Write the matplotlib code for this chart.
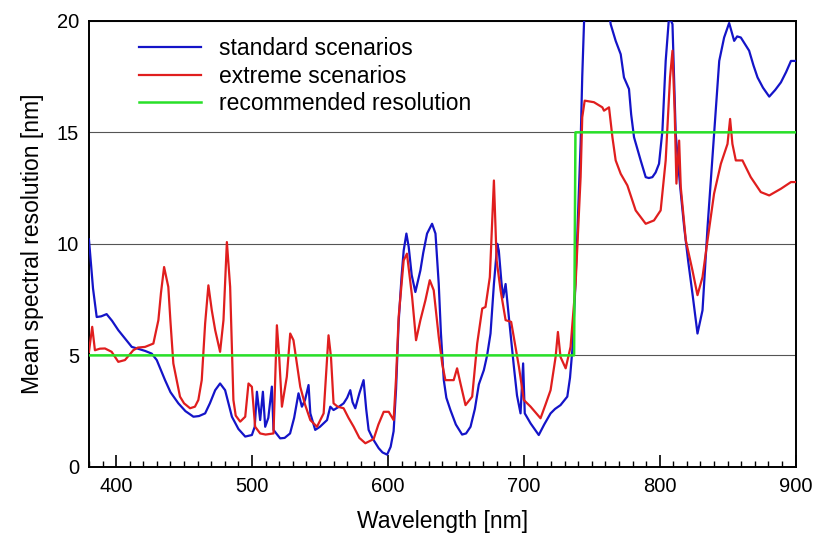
import matplotlib
matplotlib.use('Agg')
import matplotlib.pyplot as plt
from matplotlib.ticker import MultipleLocator

plt.rcParams['font.family'] = ['Liberation Sans', 'DejaVu Sans']

# standard scenarios (blue)
std_wl = [380, 383, 385.7, 389, 393, 397, 401.6, 406, 411.5, 416, 421.3, 426.2, 429.9, 436, 440,
          445.8, 451, 456.9, 461, 465.5, 469, 472.9, 476.5, 480.2, 485.2, 490, 495, 499.9, 502,
          503.6, 506, 508, 509.7, 512, 514.6, 515.8, 520.7, 524, 528, 531, 534.2, 536.7, 539,
          541.6, 542.9, 546.5, 550, 555.2, 557.6, 560, 564, 567.4, 570, 572.3, 574, 576, 579,
          582.1, 584, 585.8, 589, 593.2, 596, 599.4, 602, 604.2, 606, 607.9, 610, 611.6, 613.6,
          615.3, 617.5, 620.2, 623.9, 626, 628.8, 632.5, 635, 637.4, 639, 641.1, 643, 646, 650,
          654.6, 657.5, 660.8, 664, 666.9, 670.6, 673, 675.5, 678, 680.5, 681.6, 683.5, 684.8,
          686.6, 689, 692.7, 695, 697.6, 699.5, 700.7, 705, 711, 715, 719.7, 723, 727, 732, 734,
          735.7, 737.5, 739.4, 741.8, 743, 744.3, 746, 755, 762, 763.9, 767.6, 771.3, 773.7,
          777.4, 779, 781.1, 786, 789.7, 792, 794.6, 797, 799.5, 802, 804.4, 806.9, 809.4, 811.8,
          815, 818, 821, 824.1, 827.8, 831.5, 835.2, 840, 843.8, 847.4, 851.1, 854.8, 857, 859.7,
          865.8, 869, 872, 876, 880.6, 885, 889.2, 893, 896.6, 900]
std_res = [10.2, 8.0, 6.72, 6.75, 6.85, 6.55, 6.13, 5.8, 5.38, 5.3, 5.2, 5.08, 4.79, 3.89, 3.35,
           2.85, 2.5, 2.25, 2.28, 2.4, 2.85, 3.44, 3.74, 3.44, 2.25, 1.7, 1.36, 1.43, 1.8,
           3.37, 2.1, 3.37, 1.8, 2.2, 3.6, 1.66, 1.28, 1.3, 1.5, 2.2, 3.3, 2.7, 3.0,
           3.67, 2.4, 1.66, 1.8, 2.1, 2.7, 2.55, 2.7, 2.85, 3.1, 3.44, 2.9, 2.63, 3.3,
           3.89, 2.6, 1.66, 1.25, 0.84, 0.65, 0.55, 0.9, 1.6, 3.5, 6.5, 8.5, 9.7, 10.46,
           9.86, 8.6, 7.84, 8.81, 9.6, 10.46, 10.9, 10.46, 8.2, 6.0, 3.9, 3.1, 2.55, 1.9,
           1.45, 1.5, 1.8, 2.6, 3.7, 4.34, 5.0, 5.98, 8.2, 10.0, 9.7, 8.3, 7.6,
           8.2, 6.72, 4.49, 3.2, 2.4, 4.64, 2.4, 1.95, 1.43, 1.9, 2.4, 2.6, 2.77, 3.15, 4.0,
           5.23, 7.5, 10.46, 14.5, 17.5, 19.9, 21.0, 21.5, 20.8, 19.85, 19.1, 18.5, 17.46,
           16.94, 15.8, 14.78, 13.74, 12.99, 12.95, 12.99, 13.2, 13.59, 15.08, 18.2, 20.2, 19.85, 14.9,
           12.6, 10.75, 9.2, 7.77, 5.98, 7.02, 10.75, 14.9, 18.2, 19.25, 19.9, 19.1, 19.3, 19.25,
           18.66, 18.0, 17.46, 17.0, 16.6, 16.9, 17.24, 17.7, 18.2, 18.2]

# extreme scenarios (red)
ext_wl = [380, 382.4, 384.4, 388, 391.8, 396.7, 401.6, 406.5, 412.6, 416, 421.3, 427.4, 431.1,
          433, 435.3, 438.4, 440, 442.1, 447, 450, 454.4, 458, 460.5, 463, 465.5, 467.9, 470.4,
          472.9, 476.5, 479, 481.5, 483.9, 486.3, 488, 491.3, 495, 497.4, 499.9, 502.3, 506, 510,
          515.8, 518.3, 520, 522, 525.6, 528.1, 530.5, 535.5, 539, 542.9, 547.8, 552.7, 556.3,
          558.1, 560, 563, 567.4, 571, 574.8, 579, 583.4, 589.5, 593, 596.9, 600.6, 604.2, 606,
          607.9, 611.6, 614, 617.8, 620.7, 623.9, 627.6, 630.8, 633.7, 637.4, 640, 642.3, 648.4,
          650.9, 653.4, 657.1, 662, 665.7, 669.4, 671.8, 675, 678, 680, 682.9, 686.6, 690.7,
          693.9, 696.4, 700, 705, 712.3, 716, 719.7, 723.4, 725.1, 727, 730.8, 734.4, 738.1,
          741.8, 743, 744.8, 751.6, 757.8, 759, 762.7, 765.2, 767.6, 771.3, 776.2, 782.3, 789.7,
          795.8, 800.7, 804.4, 807.6, 809.4, 811, 812.3, 814.3, 815.5, 819.2, 824.1, 827.8,
          831.5, 835.2, 840, 845, 849.9, 851.8, 853.5, 856, 860.9, 867, 874.4, 880.6, 889.2,
          896.6, 900]
ext_res = [5.16, 6.28, 5.23, 5.3, 5.31, 5.16, 4.71, 4.79, 5.23, 5.35, 5.38, 5.53, 6.58,
           7.8, 8.96, 8.07, 6.5, 4.64, 3.15, 2.85, 2.63, 2.7, 3.0, 3.89, 6.43, 8.14, 7.02,
           6.13, 5.16, 6.58, 10.08, 8.07, 3.0, 2.3, 2.03, 2.25, 3.74, 3.59, 1.8, 1.5, 1.45,
           1.5, 6.35, 4.93, 2.7, 4.04, 5.98, 5.68, 3.59, 2.8, 2.1, 1.8, 2.4, 5.9,
           4.93, 2.85, 2.7, 2.63, 2.2, 1.8, 1.3, 1.06, 1.25, 1.9, 2.47, 2.47, 2.1, 4.0,
           6.72, 9.26, 9.56, 7.62, 5.68, 6.58, 7.47, 8.37, 7.92, 5.83, 4.6, 3.89, 3.89,
           4.42, 3.74, 2.77, 3.15, 5.53, 7.1, 7.17, 8.51, 12.84, 9.26, 7.92, 6.58, 6.5,
           5.38, 4.49, 3.0, 2.7, 2.18, 2.8, 3.44, 4.93, 6.05, 4.93, 4.42, 5.38, 8.2,
           12.99, 15.67, 16.42, 16.35, 16.12, 15.97, 16.12, 14.78, 13.74, 13.14, 12.62, 11.5, 10.9,
           11.05, 11.5, 13.74, 17.46, 18.66, 15.97, 12.7, 14.63, 12.54, 10.16, 8.81, 7.7,
           8.51, 10.16, 12.25, 13.59, 14.48, 15.6, 14.48, 13.74, 13.74, 12.99, 12.32, 12.17, 12.47,
           12.77, 12.77]

# recommended resolution (green step)
rec_wl = [380, 737, 738, 900]
rec_res = [5, 5, 15, 15]

fig = plt.figure(figsize=(8.16, 5.33), dpi=100)
ax = fig.add_axes([0.109, 0.124, 0.866, 0.837])

ax.plot(std_wl, std_res, color='#1414c8', lw=1.6, label='standard scenarios', zorder=3)
ax.plot(ext_wl, ext_res, color='#e01e1e', lw=1.6, label='extreme scenarios', zorder=4)
ax.plot(rec_wl, rec_res, color='#28e028', lw=1.8, label='recommended resolution', zorder=5)

ax.set_xlim(380, 900)
ax.set_ylim(0, 20)
ax.set_yticks([0, 5, 10, 15, 20])
ax.xaxis.set_major_locator(MultipleLocator(100))
ax.xaxis.set_minor_locator(MultipleLocator(10))
ax.tick_params(axis='x', which='major', direction='in', length=9, width=1.2, labelsize=14.5, pad=7)
ax.tick_params(axis='x', which='minor', direction='in', length=4.5, width=1)
ax.tick_params(axis='y', length=0, labelsize=14.5, pad=7)
ax.grid(axis='y', color='#555555', lw=0.8, zorder=1)
for s in ax.spines.values():
    s.set_linewidth(1.4)

ax.set_xlabel('Wavelength [nm]', fontsize=16.5, labelpad=10)
ax.set_ylabel('Mean spectral resolution [nm]', fontsize=16.5, labelpad=9)

ax.legend(loc='upper left', frameon=False, fontsize=16.5, handlelength=2.7,
          handletextpad=0.8, labelspacing=0.2, bbox_to_anchor=(0.042, 1.01))

fig.savefig('out.png', dpi=100)
